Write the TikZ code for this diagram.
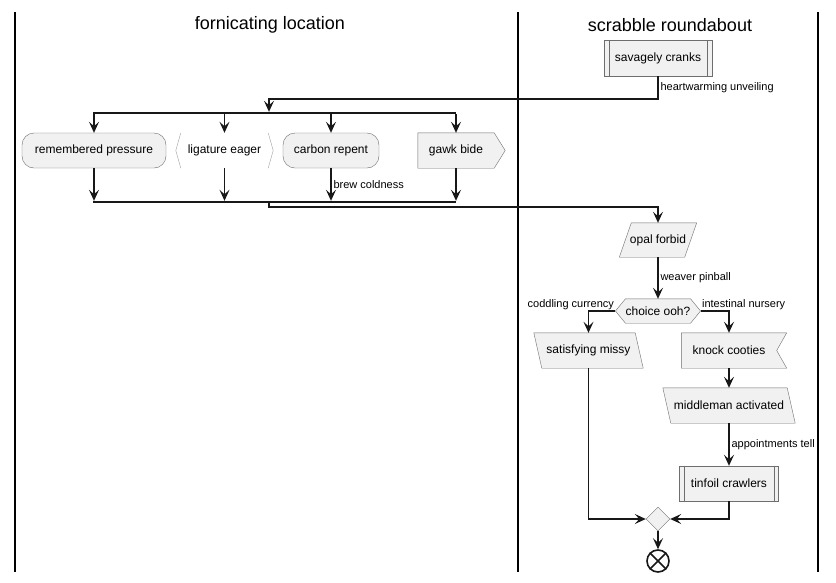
\documentclass[tikz,border=0pt]{standalone}
\usepackage{fontspec}
\setsansfont{Liberation Sans}
\usetikzlibrary{arrows.meta}
\usetikzlibrary{shapes}
\usetikzlibrary{backgrounds}
\definecolor{fillGray}{HTML}{F1F1F1}
\definecolor{borderGray}{HTML}{6E6E6E}
\definecolor{lightGray}{HTML}{A0A0A0}
\definecolor{inkBlack}{HTML}{181818}

\begin{document}
\begin{tikzpicture}[x = 1pt, y = -1pt, font=\sffamily]
	\tikzstyle{boxStyle} = [shape = rectangle, minimum height = 35pt, inner sep = 0pt, font = \sffamily\fontsize{12}{14}\selectfont]
	\tikzstyle{filledStyle} = [boxStyle, draw = borderGray, fill = fillGray]
	\tikzstyle{roundStyle} = [filledStyle, rounded corners = 12pt]
	\tikzstyle{outlineStyle} = [draw = borderGray, fill = fillGray]
	\tikzstyle{labelStyle} = [inner sep = 2pt, font = \sffamily\fontsize{11}{13}\selectfont]
	\tikzstyle{barStyle} = [shape = rectangle, fill = inkBlack, minimum width = 363pt, minimum height = 2pt, inner sep = 0pt]
	\tikzstyle{edgeStyle} = [draw = inkBlack, line width = 1.1pt, -{Stealth[length = 11pt, width = 10pt, inset = 4.5pt]}]
	\tikzstyle{laneStyle} = [draw = black, line width = 1.5pt]
	\tikzstyle{titleStyle} = [font = \sffamily\fontsize{18}{22}\selectfont]
	\useasboundingbox (0, 0) rectangle (836, 582);
	\draw[laneStyle] (15, 12) -- (15, 572);
	\draw[laneStyle] (518, 12) -- (518, 572);
	\draw[laneStyle] (818, 12) -- (818, 572);
	\node[titleStyle] (t0) at (270, 25) {fornicating location};
	\node[titleStyle] (t1) at (670, 25) {scrabble roundabout};
	\node[filledStyle, minimum width = 108pt, minimum height = 36pt] (v0) at (658, 58) {savagely cranks};
	\draw[borderGray] ([xshift = 5pt]v0.north west) -- ([xshift = 5pt]v0.south west);
	\draw[borderGray] ([xshift = -5pt]v0.north east) -- ([xshift = -5pt]v0.south east);
	\node[barStyle] (fork) at (274.5, 113) {};
	\node[roundStyle, minimum width = 144pt] (v1) at (94, 150.5) {remembered pressure};
	\node[boxStyle, minimum width = 97pt] (v2) at (224.5, 150.5) {ligature eager};
	\draw[lightGray] ([xshift = 5pt]v2.north west) -- (v2.west) -- ([xshift = 5pt]v2.south west);
	\draw[lightGray] ([xshift = -5pt]v2.north east) -- (v2.east) -- ([xshift = -5pt]v2.south east);
	\node[roundStyle, minimum width = 96pt] (v3) at (331, 150.5) {carbon repent};
	\node[boxStyle, minimum width = 76pt] (v4) at (456, 150.5) {gawk bide};
	\node[barStyle] (join) at (274.5, 202) {};
	\node[boxStyle, minimum width = 65pt, minimum height = 34pt] (v5) at (658, 240) {opal forbid};
	\node[boxStyle, minimum width = 64pt, minimum height = 24pt] (v6) at (658, 311) {choice ooh?};
	\node[boxStyle, minimum width = 101pt] (v7) at (588.5, 350.5) {satisfying missy};
	\node[boxStyle, minimum width = 95pt] (v8) at (729, 350.5) {knock cooties};
	\node[boxStyle, minimum width = 124pt] (v9) at (729, 405.5) {middleman activated};
	\node[filledStyle, minimum width = 99pt] (v10) at (729, 483.5) {tinfoil crawlers};
	\draw[borderGray] ([xshift = 5pt]v10.north west) -- ([xshift = 5pt]v10.south west);
	\draw[borderGray] ([xshift = -5pt]v10.north east) -- ([xshift = -5pt]v10.south east);
	\node[shape = diamond, draw = borderGray, fill = fillGray, minimum width = 24pt, minimum height = 24pt, inner sep = 0pt] (v11) at (658, 519) {};
	\node[shape = circle, draw = inkBlack, line width = 1.6pt, fill = white, minimum size = 22pt, inner sep = 0pt] (v12) at (658, 561) {};
	\draw[inkBlack, line width = 1.6pt] (v12.north west) -- (v12.south east) (v12.north east) -- (v12.south west);
	\begin{scope}[on background layer]
		\fill[white] (0, 0) rectangle (836, 582);
		\draw[outlineStyle] (v4.north west) -- (v4.north east) -- ([xshift = 11pt]v4.east) -- (v4.south east) -- (v4.south west) -- cycle;
		\draw[outlineStyle] ([xshift = 6pt]v5.north west) -- ([xshift = 6pt]v5.north east) -- ([xshift = -6pt]v5.south east) -- ([xshift = -6pt]v5.south west) -- cycle;
		\draw[outlineStyle] (v6.north west) -- (v6.north east) -- ([xshift = 10pt]v6.east) -- (v6.south east) -- (v6.south west) -- ([xshift = -10pt]v6.west) -- cycle;
		\draw[outlineStyle] ([xshift = -4pt]v7.north west) -- ([xshift = -4pt]v7.north east) -- ([xshift = 4pt]v7.south east) -- ([xshift = 4pt]v7.south west) -- cycle;
		\draw[outlineStyle] (v8.north west) -- ([xshift = 10pt]v8.north east) -- (v8.east) -- ([xshift = 10pt]v8.south east) -- (v8.south west) -- cycle;
		\draw[outlineStyle] ([xshift = -4pt]v9.north west) -- ([xshift = -4pt]v9.north east) -- ([xshift = 4pt]v9.south east) -- ([xshift = 4pt]v9.south west) -- cycle;
	\end{scope}
	\coordinate (c0) at (269, 99);
	\coordinate (c1) at (269, 207);
	\draw[edgeStyle] (v0) |- node[labelStyle, anchor = west, pos = 0.25] {heartwarming unveiling} (c0) -- (c0 |- fork.north);
	\foreach \v in {v1, v2, v3, v4} {\draw[edgeStyle] (fork.south -| \v) -- (\v);}
	\foreach \v in {v1, v2, v4} {\draw[edgeStyle] (\v) -- (\v |- join.north);}
	\draw[edgeStyle] (v3) -- node[labelStyle, anchor = west] {brew coldness} (v3 |- join.north);
	\draw[edgeStyle] (join.south -| c1) -- (c1) -| (v5);
	\draw[edgeStyle] (v5) -- node[labelStyle, anchor = west] {weaver pinball} (v6);
	\draw[edgeStyle] ([xshift = -10pt]v6.west) node[labelStyle, anchor = south east, inner sep = 1pt] {coddling currency} -| (v7);
	\draw[edgeStyle] ([xshift = 10pt]v6.east) node[labelStyle, anchor = south west, inner sep = 1pt] {intestinal nursery} -| (v8);
	\draw[edgeStyle] (v8) -- (v9);
	\draw[edgeStyle] (v9) -- node[labelStyle, anchor = west] {appointments tell} (v10);
	\draw[edgeStyle] (v7) |- (v11);
	\draw[edgeStyle] (v10) |- (v11);
	\draw[edgeStyle] (v11) -- (v12);
\end{tikzpicture}
\end{document}
